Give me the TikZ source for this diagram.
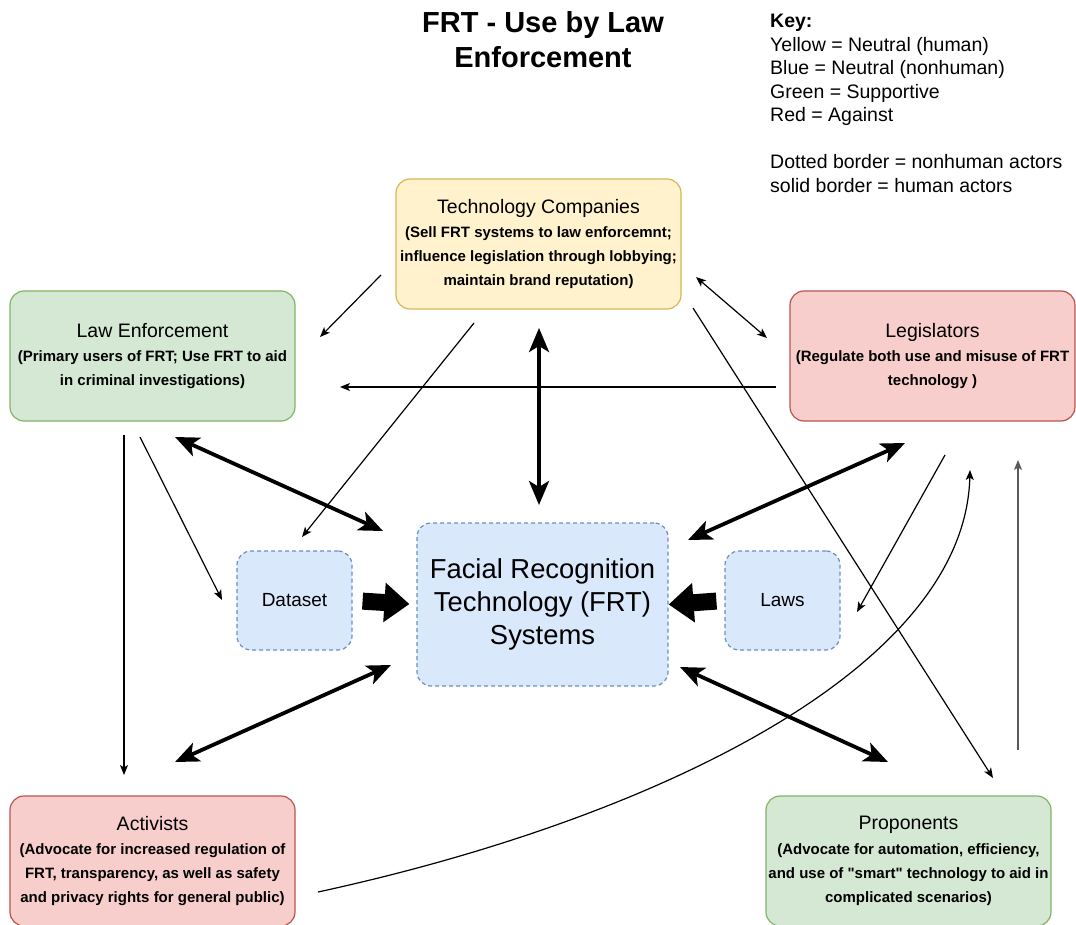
\documentclass[tikz,border=0pt]{standalone}
\usepackage{fontspec}
\setmainfont{Liberation Sans}[Ligatures=TeXOff]
\usetikzlibrary{arrows.meta,calc}
\definecolor{yfill}{HTML}{FFF2CC}\definecolor{ydraw}{HTML}{D6B656}
\definecolor{gfill}{HTML}{D5E8D4}\definecolor{gdraw}{HTML}{82B366}
\definecolor{rfill}{HTML}{F8CECC}\definecolor{rdraw}{HTML}{B85450}
\definecolor{bfill}{HTML}{DAE8FC}\definecolor{bdraw}{HTML}{6C8EBF}
\newcommand{\boxttl}{\fontsize{19.5}{25}\selectfont\mdseries}
\begin{document}
\begin{tikzpicture}[x=1pt,y=-1pt,
  actor/.style={rounded corners=14pt, line width=1.2pt, minimum width=285pt,
    minimum height=130pt, align=center, inner sep=0pt,
    font=\fontsize{15}{24.3}\selectfont\bfseries},
  yact/.style={actor, draw=ydraw, fill=yfill},
  gact/.style={actor, draw=gdraw, fill=gfill},
  ract/.style={actor, draw=rdraw, fill=rfill},
  thing/.style={rounded corners=14pt, line width=1.2pt, draw=bdraw, fill=bfill,
    dash pattern=on 4pt off 3pt, align=center, inner sep=0pt},
  thin/.style={line width=1.2pt, -{Stealth[length=10pt,width=8pt,inset=2.5pt]}},
  thinboth/.style={line width=1.2pt, {Stealth[length=10pt,width=8pt,inset=2.5pt]}-{Stealth[length=10pt,width=8pt,inset=2.5pt]}},
  thick/.style={line width=3.8pt, {Stealth[length=24pt,width=20pt,inset=6pt]}-{Stealth[length=24pt,width=20pt,inset=6pt]}},
  block/.style={line width=17pt, -{Triangle[length=25pt,width=38pt]}}
]
\useasboundingbox (0,0) rectangle (1076,925);

% title and key
\node[font=\fontsize{29}{35}\selectfont\bfseries, align=center] (title) at (543,40)
  {FRT - Use by Law\\Enforcement};
\node[font=\fontsize{19.5}{23.5}\selectfont, align=left, anchor=north west, inner sep=0pt] (key) at (770,14)
  {\textbf{Key:}\\Yellow = Neutral (human)\\Blue = Neutral (nonhuman)\\Green = Supportive\\Red = Against\\[23.5pt]Dotted border = nonhuman actors\\solid border = human actors};

% actors
\node[yact] (tech) at (538.5,244) {{\boxttl Technology Companies}\\(Sell FRT systems to law enforcemnt;\\influence legislation through lobbying;\\maintain brand reputation)};
\node[gact] (le) at (152.5,356) {{\boxttl Law Enforcement}\\(Primary users of FRT; Use FRT to aid\\in criminal investigations)};
\node[ract] (leg) at (932.5,356) {{\boxttl Legislators}\\(Regulate both use and misuse of FRT\\technology )};
\node[ract] (act) at (152.5,861) {{\boxttl Activists}\\(Advocate for increased regulation of\\FRT, transparency, as well as safety\\and privacy rights for general public)};
\node[gact] (pro) at (908.5,861) {{\boxttl Proponents}\\(Advocate for automation, efficiency,\\and use of "smart" technology to aid in\\complicated scenarios)};

% nonhuman
\node[thing, minimum width=251pt, minimum height=163pt, font=\fontsize{27.4}{33}\selectfont] (frt) at (542.5,604.5)
  {Facial Recognition\\Technology (FRT)\\Systems};
\node[thing, minimum width=115pt, minimum height=99pt, font=\fontsize{19}{23}\selectfont] (data) at (294.5,600.5) {Dataset};
\node[thing, minimum width=115pt, minimum height=99pt, font=\fontsize{19}{23}\selectfont] (laws) at (782.5,600.5) {Laws};

% connector end points
\coordinate (t1) at (381,275);  \coordinate (le1) at (320,337);
\coordinate (t2) at (474,323);  \coordinate (d1) at (302,537);
\coordinate (t3) at (693,308);  \coordinate (p1) at (993,778);
\coordinate (t4) at (696,277);  \coordinate (lg1) at (767,338);
\coordinate (t5) at (539,328);  \coordinate (f1) at (539,505);
\coordinate (lg2) at (776,387); \coordinate (le2) at (340,387);
\coordinate (le3) at (175,437); \coordinate (f2) at (383,531);
\coordinate (le4) at (140,437); \coordinate (d2) at (222,600);
\coordinate (le5) at (124,435); \coordinate (a1) at (124,775);
\coordinate (f3) at (688,540);  \coordinate (lg3) at (905,443);
\coordinate (lg4) at (945,455); \coordinate (l1) at (857,612);
\coordinate (a2) at (318,892);  \coordinate (lg5) at (970,470);
\coordinate (p2) at (1018,750); \coordinate (lg6) at (1018,460);
\coordinate (f4) at (680,667);  \coordinate (p3) at (888,762);
\coordinate (f5) at (391,665);  \coordinate (a3) at (175,762);

% thin connectors
\draw[thin] (t1) -- (le1);
\draw[thin] (t2) -- (d1);
\draw[thin] (t3) -- (p1);
\draw[thinboth] (t4) -- (lg1);
\draw[thin] (lg2) -- (le2);
\draw[thin] (le4) -- (d2);
\draw[thin] (le5) -- (a1);
\draw[thin] (lg4) -- (l1);
\draw[thin] (a2) .. controls (650,820) and (965,670) .. (lg5);
\draw[thin, black!65] (p2) -- (lg6);

% thick connectors
\draw[thick] (t5) -- (f1);
\draw[thick] (le3) -- (f2);
\draw[thick] (f3) -- (lg3);
\draw[thick] (f4) -- (p3);
\draw[thick] (f5) -- (a3);

% block arrows
\draw[block, shorten <=10pt, shorten >=7pt] (data.east) -- (frt.west);
\draw[block, shorten <=8pt, shorten >=0pt] (laws.west) -- (frt.east);
\end{tikzpicture}
\end{document}
